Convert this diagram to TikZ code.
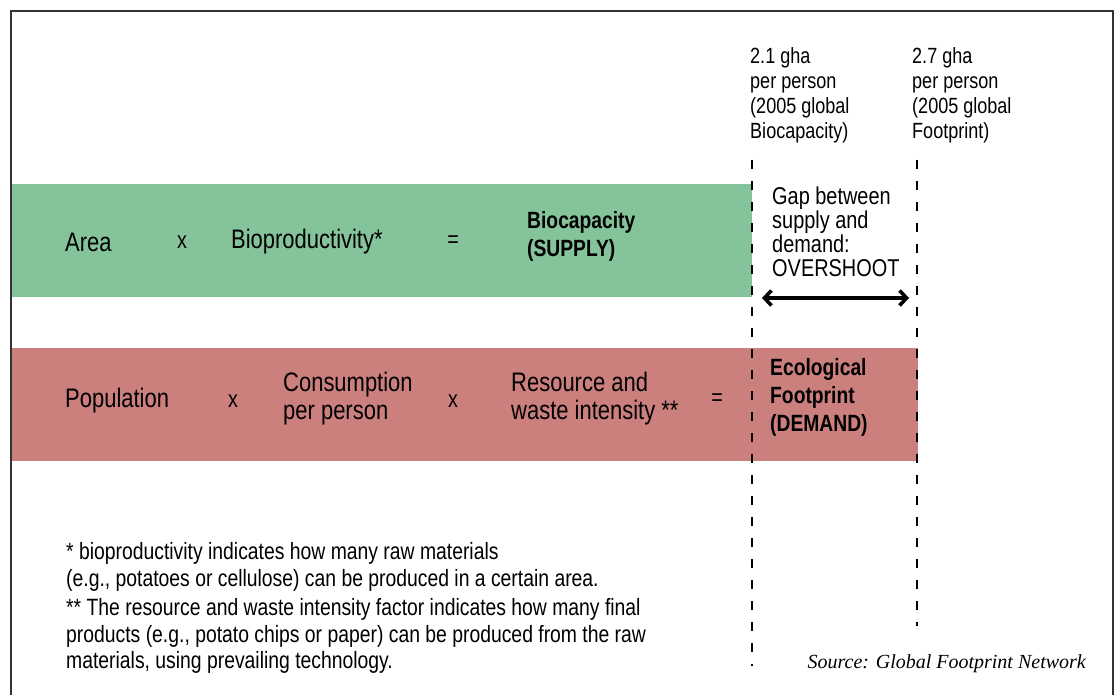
\documentclass[tikz,border=0pt]{standalone}
\usepackage{fontspec}
\setmainfont{Liberation Sans}[FakeStretch=0.82]
\newfontfamily\sourcefont{Liberation Serif}
\usetikzlibrary{arrows.meta,positioning}
\definecolor{supplygreen}{HTML}{85C49A}
\definecolor{demandred}{HTML}{CC807E}
\tikzset{
  band/.style={anchor=north west, inner sep=0pt, draw=none},
  bandtext/.style={anchor=west, inner sep=0pt, align=left,
    font=\fontsize{26.8}{28}\selectfont},
  bandbold/.style={bandtext, font=\fontsize{23.5}{28}\selectfont\bfseries},
  sign/.style={inner sep=0pt, font=\fontsize{24}{28}\selectfont},
  headtext/.style={anchor=west, inner sep=0pt, align=left,
    font=\fontsize{22}{25}\selectfont},
  gaptext/.style={anchor=west, inner sep=0pt, align=left,
    font=\fontsize{24.3}{23.8}\selectfont},
  notetext/.style={anchor=west, inner sep=0pt, align=left,
    font=\fontsize{23.6}{26.5}\selectfont},
  gapline/.style={line width=2.6pt, dash pattern=on 9pt off 12pt},
}
\begin{document}
\begin{tikzpicture}[x=1pt,y=-1pt]
    \useasboundingbox (0,0) rectangle (1115,695);
    % frame
    \draw[line width=1.3pt, black!80] (11,695) -- (11,11) -- (1113,11) -- (1113,695);

    % bands
    \node[band, fill=supplygreen, minimum width=740pt, minimum height=113pt]
        (supply) at (12,184) {};
    \node[band, fill=demandred, minimum width=906pt, minimum height=113pt]
        (demand) at (12,348) {};

    % supply row
    \node[bandtext] (area) at (65,242) {Area};
    \node[sign] (times1) at (182,242) {x};
    \node[bandtext] (bioprod) at (231,242) {Bioproductivity*};
    \node[sign] (equals1) at (453,242) {=};
    \node[bandbold] (biocap) at (527,236) {Biocapacity\\(SUPPLY)};

    % demand row
    \node[bandtext] (population) at (65,401) {Population};
    \node[sign] (times2) at (233,401) {x};
    \node[bandtext] (consumption) at (283,399) {Consumption\\per person};
    \node[sign] (times3) at (453,401) {x};
    \node[bandtext] (intensity) at (511,399) {Resource and\\waste intensity **};
    \node[sign] (equals2) at (717,400) {=};
    \node[bandbold] (footprint) at (770,397) {Ecological\\Footprint\\(DEMAND)};

    % per person values
    \node[headtext] (biovalue) at (750,95)
        {2.1 gha\\per person\\(2005 global\\Biocapacity)};
    \node[headtext] (footvalue) at (912,95)
        {2.7 gha\\per person\\(2005 global\\Footprint)};

    % dashed markers
    \coordinate (bioTop) at (752,160);
    \coordinate (bioBottom) at (752,666);
    \coordinate (footTop) at (917,160);
    \coordinate (footBottom) at (917,626);
    \draw[gapline] (bioTop) -- (bioBottom);
    \draw[gapline] (footTop) -- (footBottom);

    % overshoot
    \node[gaptext] (gap) at (772,232)
        {Gap between\\supply and\\demand:\\OVERSHOOT};
    \coordinate (gapLeft) at (762,298);
    \coordinate (gapRight) at (909,298);
    \draw[line width=3.6pt, {Straight Barb[length=7pt,width=15pt]}-{Straight Barb[length=7pt,width=15pt]}]
        (gapLeft) -- (gapRight);

    % notes
    \node[notetext] (note1) at (66,567)
        {* bioproductivity indicates how many raw materials\\(e.g., potatoes or cellulose) can be produced in a certain area.};
    \node[notetext] (note2) at (66,636)
        {** The resource and waste intensity factor indicates how many final\\products (e.g., potato chips or paper) can be produced from the raw\\materials, using prevailing technology.};
    \node[anchor=east, inner sep=0pt, font=\sourcefont\itshape\fontsize{20}{22}\selectfont]
        (source) at (1086,664) {Source: Global Footprint Network};
\end{tikzpicture}
\end{document}
